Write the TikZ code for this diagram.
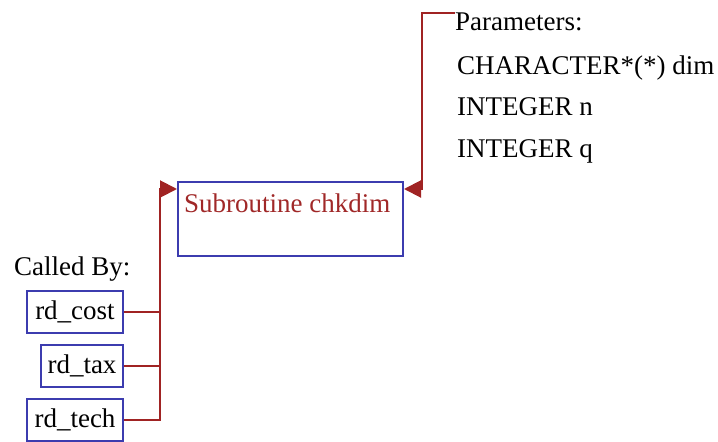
\documentclass[tikz,border=0pt]{standalone}
\usepackage{fontspec}
\setmainfont{Liberation Serif}
\usetikzlibrary{arrows.meta,calc}
\definecolor{boxblue}{RGB}{60,60,175}
\definecolor{linered}{RGB}{160,35,35}
\definecolor{txtred}{RGB}{160,40,40}
\begin{document}
\begin{tikzpicture}[x=1pt,y=-1pt,
  every node/.style={font=\fontsize{27}{30}\selectfont, inner sep=0pt},
  box/.style={draw=boxblue, line width=2pt, rectangle},
  callerbox/.style={box, anchor=east, minimum height=42pt, inner xsep=4pt},
  conn/.style={draw=linered, line width=2pt},
  tip/.style={-{Triangle[length=17pt,width=17pt]}},
  txt/.style={anchor=base west, text=black}]
\useasboundingbox (0,0) rectangle (718,442);
% main box
\node[box, anchor=north west, minimum width=225pt, minimum height=74pt] (main) at (177,181) {};
\node[txt, text=txtred] (maintext) at (184,212) {Subroutine chkdim};
% parameters
\node[txt] (ptitle) at (455,30) {Parameters:};
\node[txt] (p1) at (457,74) {CHARACTER*(*) dim};
\node[txt] (p2) at (457,115) {INTEGER n};
\node[txt] (p3) at (457,157) {INTEGER q};
\coordinate (pstart) at (455,13);
\coordinate (pcorner) at (422,13);
\coordinate (mainright) at ($(main.north east)+(0,8)$);
% callers
\node[txt] (calledby) at (14,275) {Called By:};
\node[callerbox, minimum width=96pt] (rdcost) at (124,312) {rd\_cost};
\node[callerbox, minimum width=82pt] (rdtax) at (124,365.5) {rd\_tax};
\node[callerbox, minimum width=96pt] (rdtech) at (124,420) {rd\_tech};
\coordinate (bus) at (160,189);
\coordinate (mainleft) at (177,189);
% connectors
\draw[conn, tip] (pstart) -- (pcorner) -- (pcorner |- mainright) -- (mainright);
\draw[conn, tip] (rdtech.east) -| (bus) -- (mainleft);
\draw[conn] (rdcost.east) -- (rdcost.east -| bus);
\draw[conn] (rdtax.east) -- (rdtax.east -| bus);
\end{tikzpicture}
\end{document}
